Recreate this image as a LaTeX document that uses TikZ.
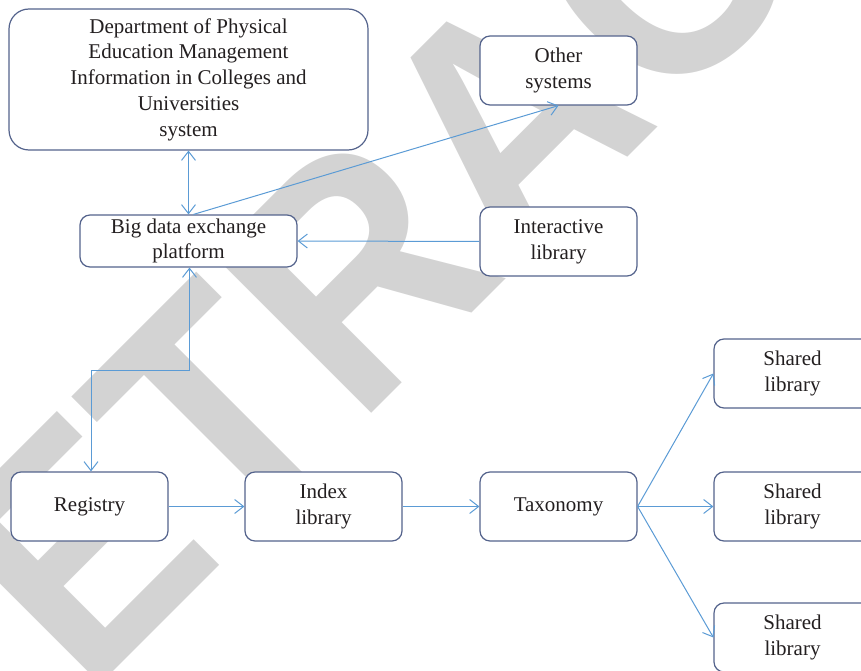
\documentclass[tikz,border=0pt]{standalone}
\usepackage{fontspec}
\setmainfont{Liberation Serif}
\newfontfamily\wmfont{Liberation Sans}
\usetikzlibrary{arrows.meta}
\definecolor{boxc}{HTML}{54638C}
\definecolor{arrc}{HTML}{5B9BD5}
\definecolor{wmc}{HTML}{D3D3D3}
\definecolor{txtc}{HTML}{231F20}
\tikzset{
  barb/.tip={Straight Barb[length=9pt,width=14pt]},
  box/.style={draw=boxc, line width=1.2pt, fill=white, rounded corners=10pt,
    align=center, inner sep=0pt, text=txtc,
    font=\fontsize{21}{25.7}\selectfont,
    minimum width=157pt, minimum height=69pt},
  conn/.style={draw=arrc, line width=1pt, -barb},
  biconn/.style={draw=arrc, line width=1pt, barb-barb},
}
\begin{document}
\begin{tikzpicture}[x=1pt,y=-1pt]
\useasboundingbox (0,0) rectangle (861,671);
\clip (0,0) rectangle (861,671);
% watermark
\node[rotate=45, xscale=0.923, anchor=base, inner sep=0pt, text=wmc,
  font=\wmfont\fontsize{325}{325}\selectfont\bfseries] (wm) at (587,198) {RETRACTED};
% boxes
\node[box, rounded corners=20pt, minimum width=359pt, minimum height=141pt] (dept) at (188.5,79.5)
  {Department of Physical\\Education Management\\Information in Colleges and\\Universities\\system};
\node[box] (other) at (558.5,70.5) {Other\\systems};
\node[box, minimum width=217pt, minimum height=52pt] (big) at (188.5,241) {Big data exchange\\platform};
\node[box] (inter) at (558.5,241.5) {Interactive\\library};
\node[box] (reg) at (89.5,506.5) {Registry};
\node[box] (idx) at (323.5,506.5) {Index\\library};
\node[box] (tax) at (558.5,506.5) {Taxonomy};
\node[box] (sh1) at (792.5,373.5) {Shared\\library};
\node[box] (sh2) at (792.5,506.5) {Shared\\library};
\node[box] (sh3) at (792.5,637.5) {Shared\\library};
% connectors
\draw[biconn] (dept.south) -- (big.north);
\draw[conn] ([xshift=5pt]big.north) -- (other.south);
\draw[conn] (inter.west) -- (big.east);
\draw[biconn] ([xshift=1pt]big.south) -- ++(0,103) -| ([xshift=1.5pt]reg.north);
\draw[conn] (reg.east) -- (idx.west);
\draw[conn] (idx.east) -- (tax.west);
\draw[conn] (tax.east) -- (sh1.west);
\draw[conn] (tax.east) -- (sh2.west);
\draw[conn] (tax.east) -- (sh3.west);
\end{tikzpicture}
\end{document}
